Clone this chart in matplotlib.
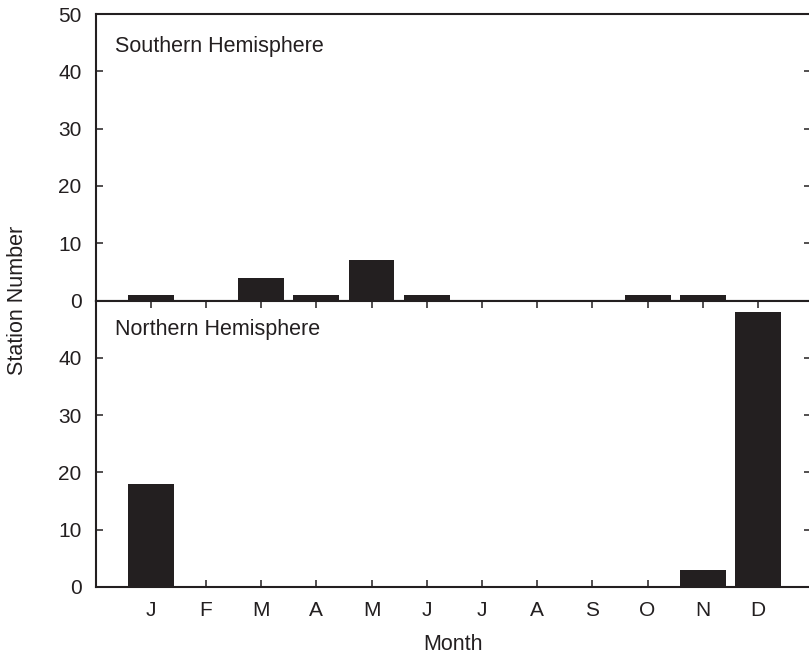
import matplotlib
matplotlib.use("Agg")
import matplotlib.pyplot as plt

plt.rcParams['font.family'] = ['Liberation Sans', 'DejaVu Sans']

months = ['J', 'F', 'M', 'A', 'M', 'J', 'J', 'A', 'S', 'O', 'N', 'D']
month_pos = list(range(1, 13))
southern = [1, 0, 4, 1, 7, 1, 0, 0, 0, 1, 1, 0]
northern = [18, 0, 0, 0, 0, 0, 0, 0, 0, 0, 3, 48]

bar_color = '#231f20'
fs = 15.5
tick_fs = 15

fig = plt.figure(figsize=(8.09, 6.57), dpi=100)
W, H = 809, 657
left, right = 95.5 / W, 810.5 / W
ax_top = fig.add_axes([left, (H - 300.5) / H, right - left, 286.5 / H])
ax_bot = fig.add_axes([left, (H - 587) / H, right - left, 286.5 / H])

for ax, vals, name, ylab in [(ax_top, southern, 'Southern Hemisphere', 0.888),
                              (ax_bot, northern, 'Northern Hemisphere', 0.9)]:
    ax.bar(month_pos, vals, width=0.83, color=bar_color, zorder=3)
    ax.set_xlim(0, 12.95)
    ax.set_ylim(0, 50)
    ax.set_xticks(month_pos)
    ax.set_yticks([0, 10, 20, 30, 40, 50])
    ax.tick_params(direction='in', length=5, width=1.1, top=True, right=True,
                   labelsize=tick_fs, pad=10, color=bar_color, labelcolor='#231f20')
    for s in ax.spines.values():
        s.set_linewidth(1.5)
        s.set_color(bar_color)
    ax.text(0.027, ylab, name, transform=ax.transAxes, fontsize=fs,
            va='center', ha='left', color='#231f20')

# top panel: no month ticks at all
ax_top.tick_params(axis='x', top=False, bottom=False, labelbottom=False)
ax_bot.set_xticklabels(months)
ax_bot.set_yticklabels(['0', '10', '20', '30', '40', ''])

fig.text(453 / W, 1 - 645 / H, 'Month', fontsize=fs, ha='center', va='center',
         color='#231f20')
fig.text(18 / W, 1 - 300 / H, 'Station Number', fontsize=fs, rotation=90,
         ha='center', va='center', color='#231f20')

fig.savefig('out.png', dpi=100)
